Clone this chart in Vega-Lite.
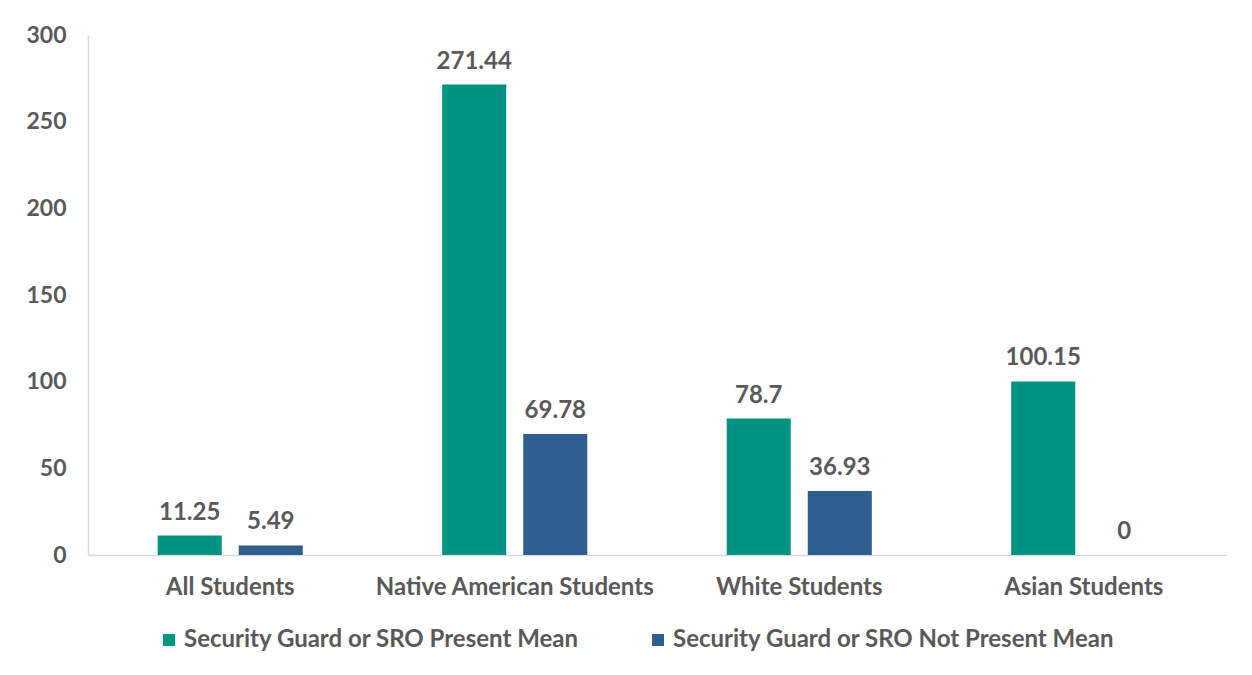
{
  "$schema": "https://vega.github.io/schema/vega-lite/v6.json",
  "width": 1138,
  "height": 520,
  "autosize": "none",
  "padding": {"left": 88, "top": 35, "right": 26, "bottom": 120},
  "background": "white",
  "config": {"view": {"stroke": null}, "font": "Lato"},
  "data": {
    "values": [
      {"group": "All Students", "series": "Security Guard or SRO Present Mean", "value": 11.25},
      {"group": "All Students", "series": "Security Guard or SRO Not Present Mean", "value": 5.49},
      {"group": "Native American Students", "series": "Security Guard or SRO Present Mean", "value": 271.44},
      {"group": "Native American Students", "series": "Security Guard or SRO Not Present Mean", "value": 69.78},
      {"group": "White Students", "series": "Security Guard or SRO Present Mean", "value": 78.7},
      {"group": "White Students", "series": "Security Guard or SRO Not Present Mean", "value": 36.93},
      {"group": "Asian Students", "series": "Security Guard or SRO Present Mean", "value": 100.15},
      {"group": "Asian Students", "series": "Security Guard or SRO Not Present Mean", "value": 0}
    ]
  },
  "encoding": {
    "x": {
      "field": "group",
      "type": "nominal",
      "sort": ["All Students", "Native American Students", "White Students", "Asian Students"],
      "scale": {"paddingInner": 0.49, "paddingOuter": 0.245},
      "axis": {
        "title": null,
        "labelAngle": 0,
        "labelLimit": 0,
        "ticks": false,
        "domainColor": "#d9d9d9",
        "domainWidth": 1.5,
        "labelFontSize": 24,
        "labelFontWeight": "bold",
        "labelColor": "#595959",
        "labelPadding": 20
      }
    },
    "xOffset": {
      "field": "series",
      "sort": ["Security Guard or SRO Present Mean", "Security Guard or SRO Not Present Mean"],
      "scale": {"paddingInner": 0.21, "paddingOuter": 0}
    },
    "y": {
      "field": "value",
      "type": "quantitative",
      "scale": {"domain": [0, 300]},
      "axis": {
        "title": null,
        "values": [0, 50, 100, 150, 200, 250, 300],
        "grid": false,
        "ticks": false,
        "domainColor": "#d9d9d9",
        "domainWidth": 1.5,
        "labelFontSize": 23,
        "labelFontWeight": "bold",
        "labelColor": "#595959",
        "labelPadding": 22
      }
    }
  },
  "layer": [
    {
      "mark": {"type": "bar"},
      "encoding": {
        "color": {
          "field": "series",
          "type": "nominal",
          "sort": ["Security Guard or SRO Present Mean", "Security Guard or SRO Not Present Mean"],
          "scale": {
            "domain": ["Security Guard or SRO Present Mean", "Security Guard or SRO Not Present Mean"],
            "range": ["#009382", "#2f5f91"]
          },
          "legend": {
            "title": null,
            "orient": "none",
            "direction": "horizontal",
            "legendX": 69,
            "legendY": 593,
            "symbolType": "square",
            "symbolSize": 144,
            "symbolStrokeWidth": 0,
            "labelFontSize": 24,
            "labelFontWeight": "bold",
            "labelColor": "#595959",
            "labelLimit": 0,
            "labelOffset": 3,
            "columnPadding": 66
          }
        }
      }
    },
    {
      "mark": {
        "type": "text",
        "baseline": "bottom",
        "dy": -11,
        "fontSize": 24,
        "fontWeight": "bold",
        "color": "#595959"
      },
      "encoding": {
        "text": {"field": "value", "type": "quantitative"}
      }
    }
  ]
}
